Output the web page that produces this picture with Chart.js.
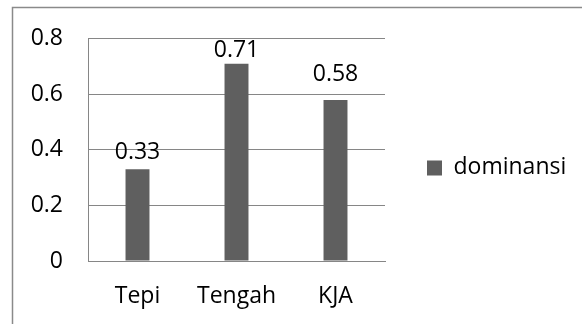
<!DOCTYPE html>
<html>
<head>
<meta charset="utf-8">
<script src="https://cdn.jsdelivr.net/npm/chart.js@4/dist/chart.umd.min.js"></script>
<style>
  html, body { margin: 0; padding: 0; background: #fff; }
  #wrap { width: 582px; height: 324px; }
</style>
</head>
<body>
<div id="wrap"><canvas id="c" width="582" height="324"></canvas></div>
<script>
const categories = ['Tepi', 'Tengah', 'KJA'];
const seriesName = 'dominansi';
const dominansi = [0.33, 0.71, 0.58];
const yTicks = [0, 0.2, 0.4, 0.6, 0.8];
// how far each value label sits above the top of its bar (px)
const labelLift = [17, 13, 25];

const FONT = '"Open Sans", "Noto Sans", sans-serif';
const TEXT = '#000000';
const LINE = '#868686';
const BAR = '#5f5f5f';
const LEGEND_WIDTH = 197;

Chart.defaults.font.family = FONT;
Chart.defaults.font.size = 23;
Chart.defaults.color = TEXT;

// white page plus the thin frame along the top and left edges
const frame = {
  id: 'frame',
  beforeDraw(chart) {
    const ctx = chart.ctx;
    ctx.save();
    ctx.fillStyle = '#ffffff';
    ctx.fillRect(0, 0, chart.width, chart.height);
    ctx.strokeStyle = '#8a8a8a';
    ctx.lineWidth = 1.5;
    ctx.beginPath();
    ctx.moveTo(12.5, chart.height);
    ctx.lineTo(12.5, 7.5);
    ctx.lineTo(chart.width, 7.5);
    ctx.stroke();
    ctx.restore();
  }
};

// give the right-hand legend column a fixed width so the plot keeps its size
const legendColumn = {
  id: 'legendColumn',
  beforeLayout(chart) {
    const lg = chart.legend;
    if (lg && !lg.__fixedWidth) {
      const fit = lg.fit.bind(lg);
      lg.fit = function () { fit(); this.width = LEGEND_WIDTH; };
      lg.__fixedWidth = true;
    }
  }
};

// value printed above each bar
const valueLabels = {
  id: 'valueLabels',
  afterDatasetsDraw(chart) {
    const ctx = chart.ctx;
    const ds = chart.data.datasets[0];
    const meta = chart.getDatasetMeta(0);
    ctx.save();
    ctx.font = '23px ' + FONT;
    ctx.fillStyle = TEXT;
    ctx.textAlign = 'center';
    ctx.textBaseline = 'middle';
    meta.data.forEach((bar, i) => {
      ctx.fillText(String(ds.data[i]), bar.x, bar.y - labelLift[i]);
    });
    ctx.restore();
  }
};

new Chart(document.getElementById('c'), {
  type: 'bar',
  data: {
    labels: categories,
    datasets: [{
      label: seriesName,
      data: dominansi,
      backgroundColor: BAR,
      borderWidth: 0,
      barPercentage: 1,
      categoryPercentage: 0.242
    }]
  },
  options: {
    responsive: false,
    animation: false,
    devicePixelRatio: 1,
    layout: { padding: { top: 37, bottom: 0, left: 0, right: 0 } },
    plugins: {
      tooltip: { enabled: false },
      legend: {
        position: 'right',
        fullSize: false,
        // empty heading keeps the single entry a little below the plot's middle
        title: { display: true, text: '', font: { size: 10 }, padding: { top: 24, bottom: 0 } },
        labels: {
          boxWidth: 15,
          boxHeight: 15,
          padding: 42,
          color: TEXT,
          font: { size: 23 }
        }
      }
    },
    scales: {
      x: {
        grid: { display: false, drawTicks: false },
        border: { display: true, color: LINE, width: 1 },
        ticks: { padding: 22, color: TEXT },
        afterFit(s) { s.height = 63; }
      },
      y: {
        min: 0,
        max: 0.8,
        afterBuildTicks(s) { s.ticks = yTicks.map(v => ({ value: v })); },
        grid: { color: LINE, drawTicks: false, lineWidth: 1 },
        border: { display: true, color: LINE, width: 1 },
        ticks: { padding: 25, color: TEXT, callback: v => String(v) },
        afterFit(s) { s.width = 88; }
      }
    }
  },
  plugins: [frame, legendColumn, valueLabels]
});
</script>
</body>
</html>
